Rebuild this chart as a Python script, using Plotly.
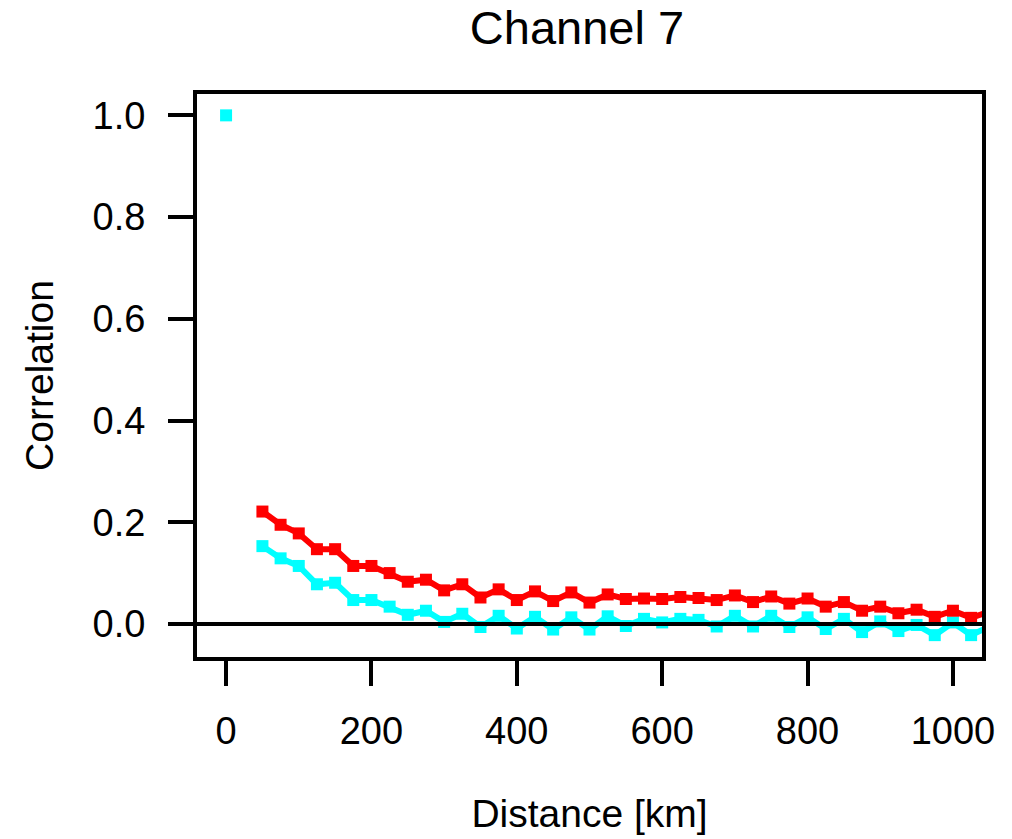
import plotly.graph_objects as go

# Data
dist_km = [50, 75, 100, 125, 150, 175, 200, 225, 250, 275, 300, 325, 350, 375, 400,
           425, 450, 475, 500, 525, 550, 575, 600, 625, 650, 675, 700, 725, 750, 775,
           800, 825, 850, 875, 900, 925, 950, 975, 1000, 1025, 1050]
corr_red = [0.221, 0.195, 0.178, 0.147, 0.147, 0.114, 0.114, 0.100, 0.083, 0.087,
            0.066, 0.078, 0.052, 0.068, 0.047, 0.064, 0.045, 0.062, 0.042, 0.058,
            0.049, 0.050, 0.049, 0.053, 0.051, 0.047, 0.056, 0.043, 0.054, 0.040,
            0.050, 0.034, 0.043, 0.026, 0.034, 0.021, 0.028, 0.014, 0.026, 0.012, 0.024]
corr_cyan = [0.153, 0.129, 0.114, 0.078, 0.081, 0.047, 0.047, 0.034, 0.018, 0.026,
             0.004, 0.020, -0.006, 0.016, -0.009, 0.014, -0.011, 0.013, -0.011, 0.015,
             -0.004, 0.010, 0.003, 0.010, 0.008, -0.005, 0.016, -0.005, 0.016, -0.006,
             0.013, -0.010, 0.010, -0.016, 0.005, -0.014, -0.002, -0.022, 0.003, -0.022, -0.005]
zero_dist = [0]
zero_corr = [1.0]

x_ticks = [0, 200, 400, 600, 800, 1000]
y_ticks = [0.0, 0.2, 0.4, 0.6, 0.8, 1.0]

FONT = "Liberation Sans, Arial, Helvetica, sans-serif"
RED = "#FF0000"
CYAN = "#00FFFF"

fig = go.Figure()
fig.add_trace(go.Scatter(x=zero_dist, y=zero_corr, mode="markers",
                         marker=dict(symbol="square", size=12, color=CYAN),
                         showlegend=False))
fig.add_trace(go.Scatter(x=dist_km, y=corr_cyan, mode="lines+markers",
                         line=dict(color=CYAN, width=6),
                         marker=dict(symbol="square", size=12, color=CYAN),
                         showlegend=False))
fig.add_trace(go.Scatter(x=dist_km, y=corr_red, mode="lines+markers",
                         line=dict(color=RED, width=6),
                         marker=dict(symbol="square", size=12, color=RED),
                         showlegend=False))

fig.add_shape(type="line", xref="paper", x0=0, x1=1, yref="y", y0=0, y1=0,
              line=dict(color="black", width=4), layer="above")

fig.update_layout(
    width=1012, height=839,
    margin=dict(l=197, r=30, t=94, b=182),
    paper_bgcolor="white", plot_bgcolor="white",
    font=dict(family=FONT, color="black", size=38),
    title=dict(text="Channel 7", font=dict(size=47, family=FONT, color="black"),
               xref="container", yref="container", x=577/1012, y=1-28/839,
               xanchor="center", yanchor="middle"),
    showlegend=False,
)
fig.update_xaxes(range=[-40, 1040], tickvals=x_ticks, ticktext=[str(v) for v in x_ticks],
                 ticks="outside", ticklen=25, tickwidth=4, tickcolor="black",
                 showline=True, linewidth=4, linecolor="black", mirror=True,
                 showgrid=False, zeroline=False, ticklabelstandoff=12,
                 tickfont=dict(size=38), automargin=False,
                 title=dict(text="Distance [km]", font=dict(size=39), standoff=50))
fig.update_yaxes(range=[-0.065, 1.042], tickvals=y_ticks, ticktext=[f"{v:.1f}" for v in y_ticks],
                 ticks="outside", ticklen=25, tickwidth=4, tickcolor="black",
                 showline=True, linewidth=4, linecolor="black", mirror=True,
                 showgrid=False, zeroline=False, ticklabelstandoff=15,
                 tickfont=dict(size=38), automargin=False,
                 title=dict(text="Correlation", font=dict(size=39), standoff=28))

fig.write_html("out.html")
